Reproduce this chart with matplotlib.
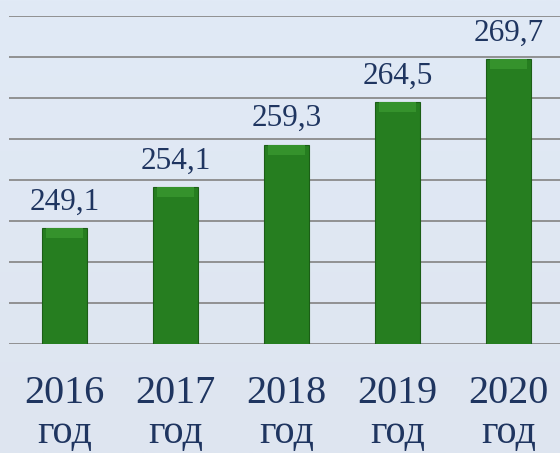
import numpy as np
import matplotlib
matplotlib.use("Agg")
import matplotlib.pyplot as plt

years = ["2016", "2017", "2018", "2019", "2020"]
values = [249.1, 254.1, 259.3, 264.5, 269.7]
value_labels = ["249,1", "254,1", "259,3", "264,5", "269,7"]
x_labels = [y + "\nгод" for y in years]

fig = plt.figure(figsize=(5.6, 4.53), dpi=100)

# light blue background with a soft vertical gradient
bg = fig.add_axes([0, 0, 1, 1], zorder=-10)
grad = np.linspace(0, 1, 256).reshape(-1, 1)
cmap = matplotlib.colors.LinearSegmentedColormap.from_list("bg", ["#e1eaf6", "#dee5f0"])
bg.imshow(grad, aspect="auto", cmap=cmap, extent=[0, 1, 0, 1])
bg.axis("off")

ax = fig.add_axes([9 / 560, 109 / 453, 555 / 560, 328 / 453])
ax.set_facecolor("none")

x = np.arange(len(years))
ax.bar(x, values, width=0.405, color="#267e20",
       edgecolor="#1b5e16", linewidth=0.8, zorder=3)
# lighter bevel strip on top of each bar
bevel = 1.2
ax.bar(x, [bevel] * len(x), bottom=[v - bevel for v in values], width=0.34,
       color="#35922c", linewidth=0, zorder=4)

for xi, v, lab in zip(x, values, value_labels):
    ax.annotate(lab, (xi, v), xytext=(0, 13.5), textcoords="offset points",
                ha="center", va="baseline", fontsize=22.5,
                family="Liberation Serif", color="#1f3560")

ax.set_ylim(235, 275)
ax.set_xlim(-0.5, 4.5)
ax.set_yticks(np.arange(235, 276, 5))
ax.yaxis.grid(True, color="#8a8a8a", linewidth=1.3, zorder=0)
ax.set_axisbelow(True)
ax.tick_params(axis="y", left=False, labelleft=False)
ax.tick_params(axis="x", length=0, pad=22)
ax.set_xticks(x)
ax.set_xticklabels(x_labels, fontsize=29, family="Liberation Serif",
                   color="#1f3560", linespacing=1.14)
for s in ax.spines.values():
    s.set_visible(False)

fig.savefig("out.png", dpi=100)
